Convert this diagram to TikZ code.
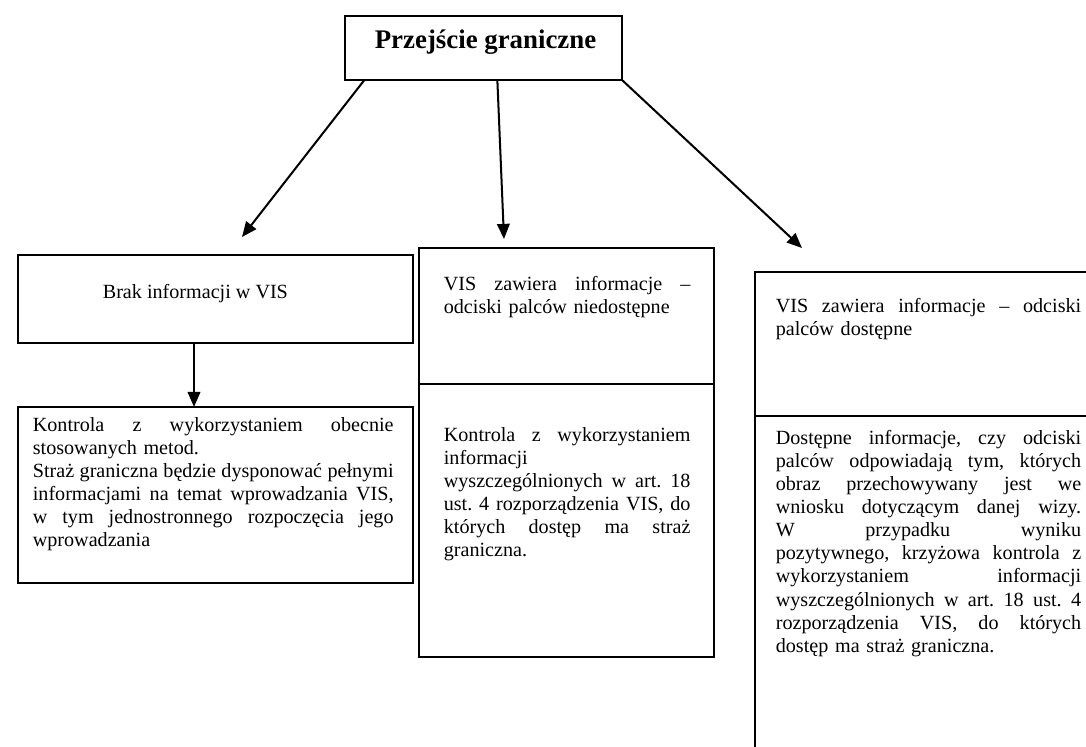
\documentclass[tikz,border=0pt]{standalone}
\usepackage{fontspec}
\setmainfont{Liberation Serif}
\usetikzlibrary{arrows.meta,calc,fit}
\setlength{\parindent}{0pt}
\frenchspacing

\newcommand{\pxl}{0.596pt}
\newlength{\jw}
\newcommand{\jl}[1]{\makebox[\jw][s]{\spaceskip=0.25em plus 1fil\relax\strut #1}\\}

\begin{document}
\begin{tikzpicture}[x=\pxl,y=-\pxl,line width=1pt]
	\tikzstyle{frame}=[draw,rectangle,inner sep=0pt,outer sep=0pt]
	\tikzstyle{txt}=[inner sep=0pt,anchor=north west,font=\fontsize{12}{13.8}\selectfont]
	\tikzstyle{arr}=[line width=1.2pt,-{Triangle[length=9pt,width=7.5pt]}]

	\useasboundingbox (0,0) rectangle (1086,746);

	\node[frame,fit={(345,16) (622,80)}](t){};
	\node[frame,fit={(18,255) (413,343)}](a){};
	\node[frame,fit={(18,407) (413,583)}](b){};
	\node[frame,fit={(419,248) (714,384)}](c1){};
	\node[frame,fit={(419,384) (714,657)}](c2){};
	\node[frame,fit={(755,272) (1110,416)}](d1){};
	\node[frame,fit={(755,416) (1110,770)}](d2){};

	\node[inner sep=0pt,anchor=base west,font=\fontsize{16}{19}\selectfont\bfseries](tt) at (374,48){Przejście graniczne};
	\node[inner sep=0pt,anchor=base west,font=\fontsize{12}{13.8}\selectfont](ta) at (102,298){Brak informacji w VIS};

	\setlength{\jw}{215pt}
	\node[txt,text width=215pt](tb) at (32,414){%
		\jl{Kontrola z wykorzystaniem obecnie}
		stosowanych metod.\\
		\jl{Straż graniczna będzie dysponować pełnymi}
		\jl{informacjami na temat wprowadzania VIS,}
		\jl{w tym jednostronnego rozpoczęcia jego}
		wprowadzania};
	\setlength{\jw}{147pt}
	\node[txt,text width=147pt](tc1) at (443,273){%
		\jl{VIS zawiera informacje –}
		odciski palców niedostępne};
	\node[txt,text width=147pt](tc2) at (443,424){%
		\jl{Kontrola z wykorzystaniem}
		informacji\\
		\jl{wyszczególnionych w art. 18}
		\jl{ust. 4 rozporządzenia VIS, do}
		\jl{których dostęp ma straż}
		graniczna.};
	\setlength{\jw}{182pt}
	\node[txt,text width=182pt](td1) at (775,295){%
		\jl{VIS zawiera informacje – odciski}
		palców dostępne};
	\node[txt,text width=182pt](td2) at (775,427){%
		\jl{Dostępne informacje, czy odciski}
		\jl{palców odpowiadają tym, których}
		\jl{obraz przechowywany jest we}
		\jl{wniosku dotyczącym danej wizy.}
		\jl{W przypadku wyniku}
		\jl{pozytywnego, krzyżowa kontrola z}
		\jl{wykorzystaniem informacji}
		\jl{wyszczególnionych w art. 18 ust. 4}
		\jl{rozporządzenia VIS, do których}
		dostęp ma straż graniczna.};

	\coordinate (pl) at (242,237);
	\coordinate (pm) at (504,239);
	\coordinate (pr) at (802,248);
	\coordinate (ab) at (194,300);

	\draw[arr] ($(t.south west)!0.07!(t.south east)$) -- (pl);
	\draw[arr] ($(t.south west)!0.55!(t.south east)$) -- (pm);
	\draw[arr] (t.south east) -- (pr);
	\draw[arr] (a.south -| ab) -- (b.north -| ab);
\end{tikzpicture}
\end{document}
